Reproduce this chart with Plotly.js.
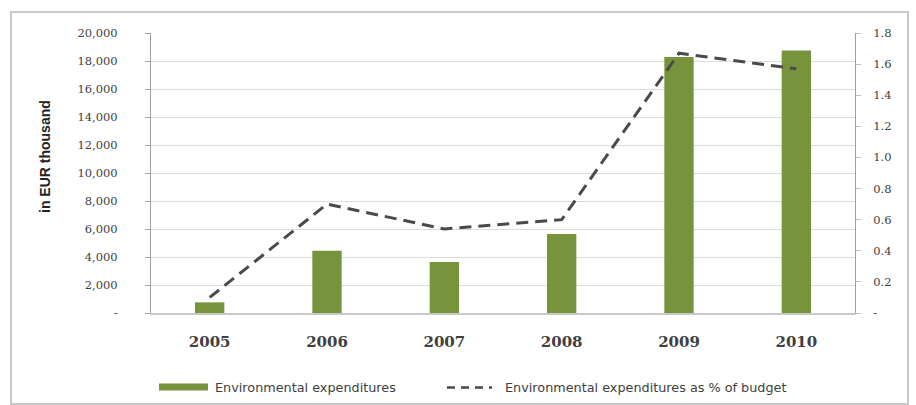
<!DOCTYPE html>
<html>
<head>
<meta charset="utf-8">
<script src="https://cdn.plot.ly/plotly-3.0.1.min.js"></script>
<style>html,body{margin:0;padding:0;background:#fff;}#chart{width:916px;height:405px;}</style>
</head>
<body>
<div id="chart"></div>
<script>
// Data
const years = ['2005', '2006', '2007', '2008', '2009', '2010'];
const expenditures = [760, 4450, 3650, 5650, 18280, 18750];       // EUR thousand
const pctOfBudget = [0.10, 0.70, 0.54, 0.60, 1.67, 1.57];         // % of budget
const leftTickVals = [0, 2000, 4000, 6000, 8000, 10000, 12000, 14000, 16000, 18000, 20000];
const leftTickText = ['-', '2,000', '4,000', '6,000', '8,000', '10,000', '12,000', '14,000', '16,000', '18,000', '20,000'];
const rightTickVals = [0, 0.2, 0.4, 0.6, 0.8, 1.0, 1.2, 1.4, 1.6, 1.8];
const rightTickText = ['-', '0.2', '0.4', '0.6', '0.8', '1.0', '1.2', '1.4', '1.6', '1.8'];
const seriesNames = ['Environmental expenditures', 'Environmental expenditures as % of budget'];
const yTitle = 'in EUR thousand';

const W = 916, H = 405, L = 151, R = 61, T = 33, B = 92;
const pw = W - L - R, ph = H - T - B;
const px = v => (v - L) / pw;
const py = v => (H - B - v) / ph;

const green = '#77933C';
const lineCol = '#4a4a4a';
const txt = '#404040';

const traces = [
  {
    type: 'bar', x: years, y: expenditures, name: seriesNames[0],
    marker: {color: green}, width: 0.25, yaxis: 'y', showlegend: false, hoverinfo: 'x+y'
  },
  {
    type: 'scatter', mode: 'lines', x: years, y: pctOfBudget, name: seriesNames[1],
    line: {color: lineCol, width: 3, dash: '12px,7px'}, yaxis: 'y2', showlegend: false
  }
];

const layout = {
  width: W, height: H,
  margin: {l: L, r: R, t: T, b: B, pad: 0},
  paper_bgcolor: '#fff', plot_bgcolor: '#fff',
  showlegend: false,
  xaxis: {
    type: 'category', showgrid: false, zeroline: false,
    showline: true, linecolor: '#c8c8c8', linewidth: 2,
    ticks: '', tickfont: {family: 'DejaVu Serif', size: 15, color: txt, weight: 'bold'},
    ticklabelstandoff: 14
  },
  yaxis: {
    range: [0, 20000], tickvals: leftTickVals, ticktext: leftTickText,
    showgrid: true, gridcolor: '#dcdcdc', gridwidth: 1, zeroline: false,
    showline: true, linecolor: '#a0a0a0', linewidth: 1,
    ticks: 'outside', ticklen: 5, tickcolor: '#a0a0a0',
    tickfont: {family: 'DejaVu Serif', size: 11.5, color: txt},
    ticklabelstandoff: 25
  },
  yaxis2: {
    overlaying: 'y', side: 'right', range: [0, 1.8],
    tickvals: rightTickVals, ticktext: rightTickText,
    showgrid: false, zeroline: false,
    showline: true, linecolor: '#a0a0a0', linewidth: 1,
    ticks: 'outside', ticklen: 5, tickcolor: '#c0c0c0',
    tickfont: {family: 'DejaVu Serif', size: 11.5, color: txt},
    ticklabelstandoff: 10
  },
  shapes: [
    {type: 'rect', xref: 'paper', yref: 'paper', x0: px(11), x1: px(908), y0: py(404), y1: py(12),
     line: {color: '#c8c8c8', width: 2}, layer: 'below'},
    {type: 'rect', xref: 'paper', yref: 'paper', x0: px(159), x1: px(208), y0: py(390.5), y1: py(383.5),
     line: {width: 0}, fillcolor: green},
    {type: 'line', xref: 'paper', yref: 'paper', x0: px(447), x1: px(492), y0: py(387.5), y1: py(387.5),
     line: {color: lineCol, width: 2.5, dash: '8px,6px'}}
  ],
  annotations: [
    {xref: 'paper', yref: 'paper', x: px(45), y: py(157), xanchor: 'center', yanchor: 'middle',
     text: yTitle, textangle: -90, showarrow: false,
     font: {family: 'Liberation Sans', size: 14, color: '#222', weight: 'bold'}},
    {xref: 'paper', yref: 'paper', x: px(213), y: py(387.5), xanchor: 'left', yanchor: 'middle',
     text: seriesNames[0], showarrow: false, font: {family: 'DejaVu Sans', size: 12.8, color: txt}},
    {xref: 'paper', yref: 'paper', x: px(503), y: py(387.5), xanchor: 'left', yanchor: 'middle',
     text: seriesNames[1], showarrow: false, font: {family: 'DejaVu Sans', size: 12.8, color: txt}}
  ]
};

Plotly.newPlot('chart', traces, layout, {displayModeBar: false, staticPlot: true});
</script>
</body>
</html>
